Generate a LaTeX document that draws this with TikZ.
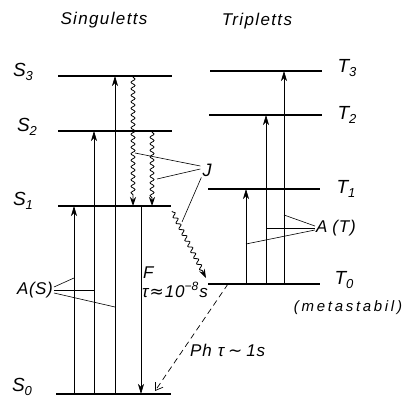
\documentclass[tikz,border=0pt]{standalone}
\usepackage{fontspec}
\setmainfont{Liberation Sans}
\newfontfamily\djfont{DejaVu Sans}
\usetikzlibrary{arrows.meta,decorations.pathmorphing}
\begin{document}
\begin{tikzpicture}[x=1pt,y=-1pt,
  lev/.style={line width=1.5pt},
  groundlev/.style={line width=2.6pt},
  arr/.style={line width=0.7pt,-{Stealth[length=10pt,width=6pt,inset=3pt]}},
  wavy/.style={line width=0.8pt,decorate,decoration={snake,segment length=6.5pt,amplitude=2pt,pre length=1pt,post length=8pt},-{Stealth[length=9pt,width=6pt,inset=3pt]}},
  ptr/.style={line width=0.6pt},
  phos/.style={line width=0.7pt,dash pattern=on 6pt off 4pt,-{Straight Barb[length=7pt,width=9pt]}},
  lbl/.style={font=\itshape\fontsize{19}{20}\selectfont,inner sep=0pt},
  ttl/.style={font=\itshape\fontsize{17}{18}\selectfont\addfontfeature{LetterSpace=8},inner sep=0pt},
  txt/.style={font=\itshape\fontsize{17}{19}\selectfont,inner sep=0pt}
]
\useasboundingbox (0,0) rectangle (406,398);
\newcommand\sbs[1]{\raisebox{-4.5pt}{\fontsize{13}{13}\selectfont #1}}
% level end points
\coordinate (S3l) at (58,76);  \coordinate (S3r) at (172,76);
\coordinate (S2l) at (58,131); \coordinate (S2r) at (172,131);
\coordinate (S1l) at (58,206); \coordinate (S1r) at (171,206);
\coordinate (S0l) at (56,394); \coordinate (S0r) at (171,394);
\coordinate (T3l) at (210,71);  \coordinate (T3r) at (322,71);
\coordinate (T2l) at (209,115); \coordinate (T2r) at (322,115);
\coordinate (T1l) at (208,189); \coordinate (T1r) at (320,189);
\coordinate (T0l) at (208,284); \coordinate (T0r) at (320,284);
% levels
\draw[lev] (S3l) -- (S3r);
\draw[lev] (S2l) -- (S2r);
\draw[lev] (S1l) -- (S1r);
\draw[groundlev] (S0l) -- (S0r);
\draw[lev] (T3l) -- (T3r);
\draw[lev] (T2l) -- (T2r);
\draw[lev] (T1l) -- (T1r);
\draw[lev] (T0l) -- (T0r);
% x positions
\coordinate (xa) at (74,0);
\coordinate (xb) at (94,0);
\coordinate (xc) at (115,0);
\coordinate (xw1) at (133,0);
\coordinate (xw2) at (152,0);
\coordinate (xf) at (141,0);
\coordinate (xt1) at (246,0);
\coordinate (xt2) at (266,0);
\coordinate (xt3) at (284,0);
% absorption singlets
\draw[arr] (xa |- S0l) -- (xa |- S1l);
\draw[arr] (xb |- S0l) -- (xb |- S2l);
\draw[arr] (xc |- S0l) -- (xc |- S3l);
% internal conversion
\draw[wavy] (xw1 |- S3l) -- (xw1 |- S1l);
\draw[wavy] (xw2 |- S2l) -- (xw2 |- S1l);
% fluorescence
\draw[arr] (xf |- S1l) -- (xf |- S0l);
% intersystem crossing
\coordinate (iscA) at (172,211);
\coordinate (iscB) at (206,278);
\draw[wavy] (iscA) -- (iscB);
% phosphorescence
\coordinate (phA) at (228,284);
\coordinate (phB) at (155,391);
\draw[phos] (phA) -- (phB);
% triplet absorption
\draw[arr] (xt1 |- T0l) -- (xt1 |- T1l);
\draw[arr] (xt2 |- T0l) -- (xt2 |- T2l);
\draw[arr] (xt3 |- T0l) -- (xt3 |- T3l);
% titles
\node[ttl] (tsing) at (104,20) {Singuletts};
\node[ttl] (ttrip) at (257,21) {Tripletts};
% level labels
\node[lbl] (lS3) at (23,72) {S\sbs{3}};
\node[lbl] (lS2) at (27,127) {S\sbs{2}};
\node[lbl] (lS1) at (23,201) {S\sbs{1}};
\node[lbl] (lS0) at (22,387) {S\sbs{0}};
\node[lbl] (lT3) at (347,68) {T\sbs{3}};
\node[lbl] (lT2) at (347,115) {T\sbs{2}};
\node[lbl] (lT1) at (346,189) {T\sbs{1}};
\node[lbl] (lT0) at (344,280) {T\sbs{0}};
\node[font=\itshape\fontsize{15}{16}\selectfont\addfontfeature{LetterSpace=18},inner sep=0pt] (meta) at (348,308) {(metastabil)};
% J label
\node[txt,font=\itshape\fontsize{18}{19}\selectfont] (J) at (207,170) {J};
\coordinate (j1) at (135,153);
\coordinate (j2) at (157,179);
\coordinate (j3) at (182,222);
\draw[ptr] (J.west) ++(-2,-4) coordinate (jA) -- (j1);
\draw[ptr] (J.west) ++(-2,-1) coordinate (jB) -- (j2);
\draw[ptr] (J.south west) ++(-1,1) coordinate (jC) -- (j3);
% A(S)
\node[txt,font=\itshape\fontsize{17}{19}\selectfont\addfontfeature{LetterSpace=3}] (AS) at (35,290) {A(S)};
\coordinate (as1) at (74,278);
\coordinate (as2) at (94,290);
\coordinate (as3) at (115,307);
\draw[ptr] (AS.east) ++(1,-3) -- (as1);
\draw[ptr] (AS.east) ++(1,0) -- (as2);
\draw[ptr] (AS.east) ++(1,3) -- (as3);
% A(T)
\node[txt,font=\itshape\fontsize{17}{19}\selectfont\addfontfeature{LetterSpace=5}] (AT) at (336,228) {A\hspace{5pt}(T)};
\coordinate (at1) at (284,215);
\coordinate (at2) at (266,228);
\coordinate (at3) at (246,244);
\draw[ptr] (AT.west) ++(-1,-2) -- (at1);
\draw[ptr] (AT.west) ++(-1,0) -- (at2);
\draw[ptr] (AT.west) ++(-1,2) -- (at3);
% F and tau
\node[txt,anchor=west] (F) at (143,273) {F};
\node[txt,anchor=west] (tauF) at (142,290) {τ\hspace{1pt}{\djfont ≈}\hspace{1pt}1\hspace{1pt}0\raisebox{6.5pt}{\fontsize{12}{12}\selectfont −8}\hspace{1pt}s};
\node[txt,anchor=west,font=\itshape\fontsize{17}{19}\selectfont\addfontfeature{LetterSpace=5}] (Ph) at (190,350) {Ph\hspace{6pt}τ\hspace{4pt}{\djfont ∼}\hspace{4pt}1s};
\end{tikzpicture}
\end{document}
